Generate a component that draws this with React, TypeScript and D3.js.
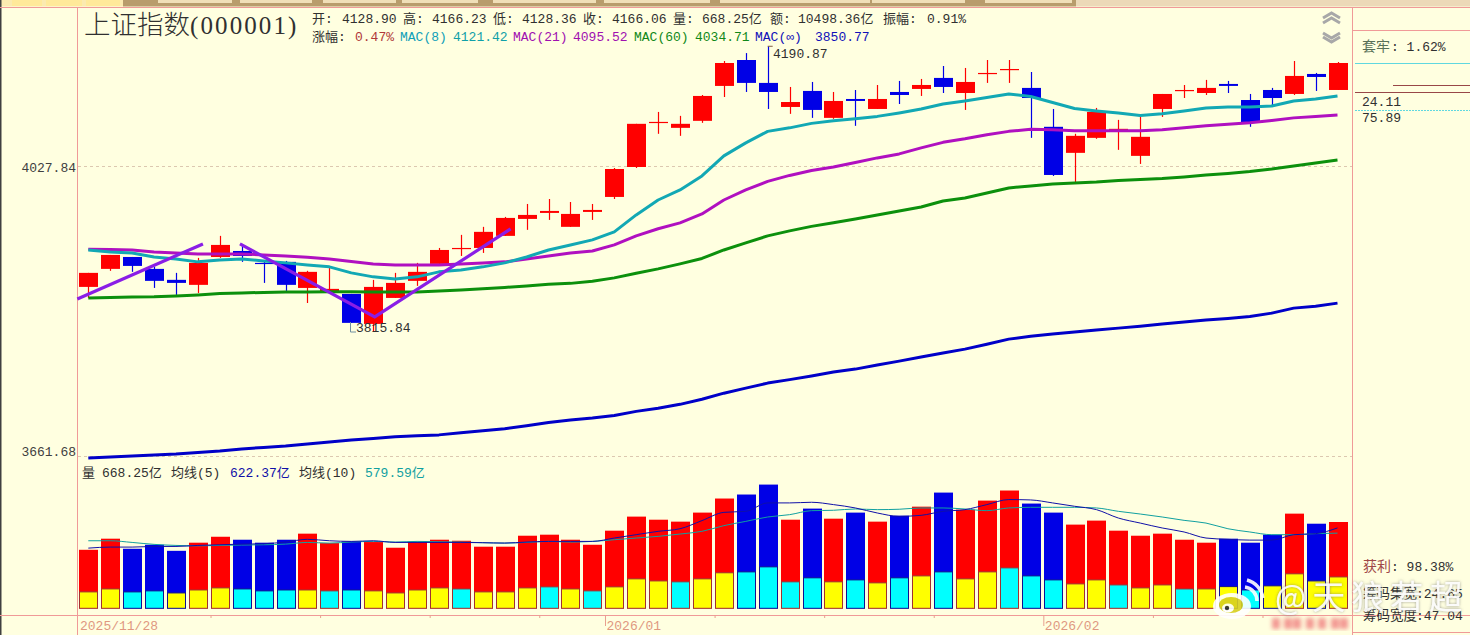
import React from "react";
import * as d3 from "d3";

const opens = [3872.2,3895.2,3910.5,3895.2,3881.2,3874.8,3910.5,3918.2,3902.9,3904.2,3870.9,3865.8,3863.3,3825.4,3858.2,3879.9,3901.6,3920.8,3922.1,3937.7,3959.7,3967.5,3949.4,3968.8,3988.4,4027.84,4086.7,4080,4089.4,4136.6,4172,4140.7,4108.1,4129.8,4093.4,4118.9,4105.4,4128.4,4132.5,4147.5,4127,4152.9,4158.4,4133.9,4081.4,4046.6,4066.6,4077.3,4042.6,4105.4,4129.8,4127,4139.3,4117.5,4131.1,4125.7,4152.9,4131.1];
const closes = [3890.1,3913.1,3899,3879.9,3877.3,3902.9,3926,3911.8,3901.6,3874.8,3891.4,3869.7,3826.7,3872.2,3877.3,3891.4,3919.5,3922.1,3942.9,3961,3964.9,3970.1,3966.2,3971.4,4025.2,4085.4,4088,4085.4,4123,4167.9,4140.7,4128.4,4114.8,4104.1,4116.2,4116.2,4118.9,4124.3,4137.9,4135.2,4142,4154.3,4159.7,4120.2,4017.3,4069.3,4101.4,4078.7,4068,4125.7,4131.1,4133.9,4136.6,4086.7,4120.2,4150.2,4148.8,4167.9];
const highs = [3890.1,3913.1,3910.5,3897.8,3890.1,3909.3,3937.7,3927.3,3904.2,3905.4,3892.7,3897.8,3863.3,3881.1,3890.1,3902.9,3922.1,3939,3949.4,3962.3,3979.2,3985.7,3981.8,3979.2,4026.5,4085.4,4101.4,4096.1,4124.3,4170.6,4181.5,4190.87,4135.2,4142,4128.4,4131.1,4137.9,4143.4,4146.1,4163.8,4161.1,4172,4172,4155.6,4105.4,4072,4106.8,4090.7,4094.7,4125.7,4137.9,4144.8,4143.4,4125.7,4133.9,4170.6,4154.3,4169.3];
const lows = [3858.2,3892.7,3891.4,3870.9,3862,3864.5,3909.3,3904.2,3877.3,3867.1,3851.8,3865.8,3826.7,3815.84,3858.2,3873.5,3901.6,3911.8,3915.7,3937.7,3945.5,3958.4,3949.4,3958.4,3985.7,4026.5,4072,4069.3,4086.7,4121.6,4128.4,4105.4,4098.8,4093.4,4092.1,4082.7,4105.4,4112.1,4123,4127,4104.1,4140.7,4140.7,4066.6,4016,4006.8,4065.3,4050.6,4031.9,4094.7,4120.2,4124.3,4127,4081.4,4108.1,4124.3,4129.8,4131.1];

const mac8 = [3919.5,3917,3915.7,3910.5,3908,3904.2,3906.7,3908,3905.4,3902.9,3900.3,3897.8,3890.1,3885,3882.4,3885,3891.4,3893.9,3897.8,3902.9,3910.5,3919.5,3926,3932.5,3942.9,3964.9,3984.4,3997.6,4016,4042.6,4059.9,4075.3,4080,4086,4089.4,4092.1,4095.4,4100.1,4105.4,4112.1,4116.2,4120.9,4125.7,4122.3,4114.1,4106.1,4102.8,4100.1,4096.5,4098.8,4102.8,4106.8,4108.1,4108.1,4109.5,4116.2,4118.9,4123];
const mac21 = [3920.4,3920.1,3919.5,3917,3915.7,3914.4,3914.4,3914.4,3913.1,3911.8,3910,3908,3904.8,3901.6,3900.3,3900.3,3900.3,3901.6,3902.9,3904.2,3908,3911.8,3915.7,3918.2,3926,3937.7,3946.9,3954.6,3966.2,3984.4,3997.6,4008.8,4016.7,4023.2,4027.84,4033.9,4039.9,4045.2,4053.2,4060.6,4065.3,4070.7,4075.3,4078,4077.3,4076,4076,4076,4076,4077.3,4080,4082.7,4084.7,4086.7,4090,4093.4,4095.4,4097.4];
const mac60 = [3858.2,3858.8,3859.5,3859.7,3860.7,3862,3863.7,3864.5,3865.2,3865.8,3865.8,3866.2,3866.2,3865.8,3865.8,3865.8,3867.1,3868.4,3869.7,3871.6,3873.5,3875.5,3876.7,3879.3,3883.7,3889.5,3895.2,3901.6,3908.6,3919.5,3928.6,3937.7,3944.2,3950,3954.6,3959.7,3964.9,3970.1,3975.3,3983.1,3987.1,3993.6,4000.2,4002.9,4005.5,4006.8,4008.1,4010.1,4011.4,4012.7,4014.7,4017.3,4019.3,4021.9,4025.2,4029.2,4033.2,4037];
const macInf = [3660.5,3661.7,3662.9,3664.1,3665.3,3667.2,3669,3671.4,3673.2,3675,3677.4,3679.8,3682.3,3684.1,3686,3687.2,3688.4,3690.9,3693.4,3695.9,3699.6,3703.3,3706.4,3708.9,3712,3717,3720.7,3725.6,3731.9,3739.3,3745.5,3751.7,3756,3760.4,3765.3,3769,3774,3778.9,3783.9,3788.9,3793.8,3800,3806.3,3810,3812.6,3815.1,3817.6,3820.1,3822.6,3825.2,3827.7,3830.2,3832.1,3834.6,3839,3845.3,3847.8,3851.6];

const volTotal = [453,539,461,492,445,508,554,531,508,531,578,505,518,513,469,515,531,523,477,477,562,570,531,492,601,710,686,671,741,850,881,958,686,772,694,741,671,717,787,896,764,834,912,811,741,648,679,601,562,578,531,508,539,508,570,733,655,668.25];
const volChip = [127,150,127,135,119,142,158,150,135,142,142,135,142,135,119,142,158,150,127,127,158,166,150,135,166,228,212,205,228,275,282,321,205,236,205,220,197,236,251,282,228,282,313,251,220,189,220,181,158,181,150,150,168,142,174,267,212,243];
const chipKinds = ["y","y","c","c","y","y","y","c","c","c","y","c","c","y","y","y","y","c","y","y","y","c","y","c","y","y","y","c","y","y","c","c","c","c","y","c","y","c","y","c","y","y","c","c","c","y","y","c","y","y","c","y","y","c","y","y","y","y"];
const vol5 = [466,474,474,479,479,487,492,497,500,513,534,523,518,523,510,510,510,510,508,505,513,518,518,518,544,570,596,616,679,743,751,816,816,821,803,777,738,712,720,751,764,803,842,839,816,790,764,699,660,622,591,544,534,528,528,570,578,622.37];
const vol10 = [523,523,510,495,487,484,487,490,492,497,510,505,513,518,513,518,515,513,508,505,510,518,513,518,531,544,557,575,596,640,673,707,725,756,759,769,764,767,777,777,769,756,777,782,782,782,777,751,730,707,681,660,616,591,570,570,578,582];

const priceTicks = [4027.84, 3661.68];
const minorDateTicks = [6, 11, 16, 21, 29, 34, 39, 49, 54];
const monthTicks = [
  { i: 24, label: "2026/01" },
  { i: 44, label: "2026/02" },
];
const trendA = [[-0.5, 3856.9], [5.23, 3927.3]];
const trendB = [[6.92, 3927.3], [13.07, 3834.2], [19.27, 3946.8]];

const header1 = [
  ["开:", 312, "#303030"], ["4128.90", 342, "#303030"],
  ["高:", 403, "#303030"], ["4166.23", 432, "#303030"],
  ["低:", 493, "#303030"], ["4128.36", 522, "#303030"],
  ["收:", 583, "#303030"], ["4166.06", 612, "#303030"],
  ["量:", 673, "#303030"], ["668.25亿", 702, "#303030"],
  ["额:", 770, "#303030"], ["10498.36亿", 798, "#303030"],
  ["振幅:", 883, "#303030"], ["0.91%", 927, "#303030"],
];
const header2 = [
  ["涨幅:", 312, "#303030"], ["0.47%", 355, "#b03838"],
  ["MAC(8)", 400, "#10a0b8"], ["4121.42", 453, "#10a0a8"],
  ["MAC(21)", 513, "#a010b0"], ["4095.52", 573, "#a010b0"],
  ["MAC(60)", 634, "#108818"], ["4034.71", 695, "#108818"],
  ["MAC(∞)", 755, "#1010b8"], ["3850.77", 815, "#1010b8"],
];
const volHeader = [
  ["量", 82, "#303030"], ["668.25亿", 102, "#303030"],
  ["均线(5)", 171, "#303030"], ["622.37亿", 230, "#1010a8"],
  ["均线(10)", 299, "#303030"], ["579.59亿", 365, "#10a0a0"],
];
const topTabs = [[12, 42], [46, 82], [86, 120], [158, 232], [240, 312], [323, 396], [402, 478], [493, 596], [604, 710], [720, 870], [872, 965], [985, 1072]];
const smearXs = [1272, 1284, 1293, 1306, 1318, 1331, 1340];

const RED = "#ff0000";
const BLUE = "#0000e6";
const FONT = "'Liberation Mono','Noto Sans CJK SC',monospace";
const CJK = "'Noto Sans CJK SC','Liberation Mono',sans-serif";

const x = d3.scaleLinear().domain([0, 57]).range([88.3, 1337.5]);
const y = d3.scaleLog().domain([3661.68, 4027.84]).range([457, 167]);
const yVol = d3.scaleLinear().domain([0, 668.25]).range([608.3, 522]);

const linePrice = d3.line<number>().x((_, i) => x(i)).y((d) => y(d));
const lineVol = d3.line<number>().x((_, i) => x(i)).y((d) => yVol(d)).curve(d3.curveMonotoneX);
const lineTrend = d3.line<number[]>().x((d) => x(d[0])).y((d) => y(d[1]));

function Segs({ items, base, size = 13 }: { items: any[]; base: number; size?: number }) {
  return (
    <g fontFamily={FONT} fontSize={size}>
      {items.map((s, i) => (
        <text key={i} x={s[1]} y={base} fill={s[2]}>{s[0]}</text>
      ))}
    </g>
  );
}

export default function App() {
  const idx = d3.range(opens.length);
  return (
    <svg width={1470} height={635} viewBox="0 0 1470 635" style={{ position: "absolute", left: 0, top: 0, display: "block" }}>
      <defs>
        <filter id="blur1"><feGaussianBlur stdDeviation="2" /></filter>
        <filter id="wm" x="-10%" y="-30%" width="120%" height="160%">
          <feDropShadow dx={0} dy={0} stdDeviation={1.4} floodColor="#707070" floodOpacity={0.75} />
        </filter>
      </defs>
      <rect width={1470} height={635} fill="#ffffe0" />

      {/* top strip */}
      <rect x={0} y={0} width={123} height={6.5} fill="#fbeab0" />
      <rect x={123} y={0} width={953} height={6.5} fill="#b89c6c" />
      <rect x={1076} y={0} width={394} height={6.5} fill="#ecd9b8" />
      {topTabs.map((t, i) => (
        <rect key={i} x={t[0]} y={0} width={t[1] - t[0]} height={i < 3 ? 6 : 3} fill={i < 3 ? "#ffe99a" : "#f0dfb8"} />
      ))}
      <rect x={0} y={0} width={1.5} height={635} fill="#404040" />

      {/* frame */}
      <g stroke="#f09a98" strokeWidth={1} fill="none">
        <line x1={0} x2={1470} y1={7.5} y2={7.5} />
        <line x1={77.5} x2={77.5} y1={7} y2={635} />
        <line x1={1352.5} x2={1352.5} y1={7} y2={635} />
        <line x1={0} x2={1470} y1={615.5} y2={615.5} />
        <line x1={1353} x2={1470} y1={30.5} y2={30.5} />
        <line x1={1353} x2={1470} y1={632.5} y2={632.5} />
      </g>

      {/* price grid */}
      {priceTicks.map((t) => (
        <line key={t} x1={78} x2={1352} y1={y(t) - 0.5} y2={y(t) - 0.5} stroke="#dcc8b0" strokeWidth={1} strokeDasharray="3 3" />
      ))}
      <text x={76} y={172} textAnchor="end" fontFamily={FONT} fontSize={13} fill="#404040">{priceTicks[0]}</text>
      <text x={76} y={456} textAnchor="end" fontFamily={FONT} fontSize={13} fill="#404040">{priceTicks[1]}</text>

      {/* candles */}
      {idx.map((i) => {
        const up = closes[i] >= opens[i];
        const c = up ? RED : BLUE;
        const top = y(Math.max(opens[i], closes[i]));
        const bot = y(Math.min(opens[i], closes[i]));
        const cx = Math.round(x(i)) + 0.5;
        return (
          <g key={i}>
            <line x1={cx} x2={cx} y1={y(highs[i])} y2={y(lows[i])} stroke={c} strokeWidth={1.2} />
            <rect x={cx - 9.5} y={top} width={19} height={Math.max(1.2, bot - top)} fill={c} />
          </g>
        );
      })}

      {/* moving averages */}
      <path d={linePrice(macInf) ?? ""} fill="none" stroke="#0000c8" strokeWidth={3} strokeLinejoin="round" />
      <path d={linePrice(mac60) ?? ""} fill="none" stroke="#0c900c" strokeWidth={3} strokeLinejoin="round" />
      <path d={linePrice(mac21) ?? ""} fill="none" stroke="#b010c0" strokeWidth={3} strokeLinejoin="round" />
      <path d={linePrice(mac8) ?? ""} fill="none" stroke="#12a8b4" strokeWidth={3} strokeLinejoin="round" />

      {/* hand-drawn trend lines */}
      <path d={lineTrend(trendA) ?? ""} fill="none" stroke="#8a1ee6" strokeWidth={3.2} />
      <path d={lineTrend(trendB) ?? ""} fill="none" stroke="#8a1ee6" strokeWidth={3.2} />

      {/* high/low labels */}
      <path d={`M${x(31) + 5},${y(4190.87)}H${x(31)}`} stroke="#806040" fill="none" />
      <text x={773} y={58} fontFamily={FONT} fontSize={13} fill="#303030">4190.87</text>
      <path d="M350.5,322V332H356" stroke="#7090a0" fill="none" />
      <text x={356} y={332} fontFamily={FONT} fontSize={13} fill="#303030">3815.84</text>

      {/* title and headers */}
      <text x={84} y={34} fontFamily={CJK} fontSize={26.5} fontWeight={300} fill="#303030">上证指数</text>
      <text x={190} y={34} fontFamily="'Liberation Serif',serif" fontSize={25} letterSpacing={2.1} fill="#303030">(000001)</text>
      <Segs items={header1} base={23} />
      <Segs items={header2} base={41} />
      <Segs items={volHeader} base={477} />

      {/* chevrons */}
      <g fill="none" stroke="#a8a8a8" strokeWidth={3}>
        <path d="M1323,18L1331.5,13L1340,18" />
        <path d="M1323,23L1331.5,18L1340,23" />
        <path d="M1323,33L1331.5,38L1340,33" />
        <path d="M1323,37L1331.5,42L1340,37" />
      </g>

      {/* right panel */}
      <text x={1362} y={51} fontFamily={CJK} fontSize={14} fill="#587058">套牢</text>
      <text x={1391} y={51} fontFamily={FONT} fontSize={13} fill="#303030">: 1.62%</text>
      <line x1={1355} x2={1470} y1={63.5} y2={63.5} stroke="#60d8e0" />
      <line x1={1393} x2={1470} y1={85.5} y2={85.5} stroke="#984848" />
      <line x1={1355} x2={1470} y1={92.5} y2={92.5} stroke="#984848" />
      <text x={1362} y={106} fontFamily={FONT} fontSize={13} fill="#303030">24.11</text>
      <line x1={1355} x2={1470} y1={110.5} y2={110.5} stroke="#60d8e0" strokeDasharray="2 1" />
      <text x={1362} y={122} fontFamily={FONT} fontSize={13} fill="#303030">75.89</text>
      <text x={1363} y={571} fontFamily={CJK} fontSize={14} fill="#a04848">获利</text>
      <text x={1391} y={571} fontFamily={FONT} fontSize={13} fill="#303030">: 98.38%</text>

      {/* volume */}
      {idx.map((i) => {
        const up = closes[i] >= opens[i];
        const c = up ? RED : BLUE;
        const cx = Math.round(x(i)) + 0.5;
        return (
          <g key={i}>
            <rect x={cx - 9.5} y={yVol(volTotal[i])} width={19} height={yVol(0) - yVol(volTotal[i])} fill={c} />
            <rect x={cx - 9} y={yVol(volChip[i])} width={18} height={yVol(0) - yVol(volChip[i])}
              fill={chipKinds[i] === "y" ? "#ffff00" : "#00ffff"} stroke={up ? "#a03030" : "#101090"} strokeWidth={1} />
          </g>
        );
      })}
      <path d={lineVol(vol10) ?? ""} fill="none" stroke="#10a0a0" strokeWidth={1} />
      <path d={lineVol(vol5) ?? ""} fill="none" stroke="#1010a8" strokeWidth={1} />

      {/* date axis */}
      {minorDateTicks.map((t) => (
        <line key={t} x1={x(t - 0.4)} x2={x(t - 0.4)} y1={615} y2={618} stroke="#e8a090" />
      ))}
      {monthTicks.map((t) => (
        <line key={t.i} x1={x(t.i - 0.4)} x2={x(t.i - 0.4)} y1={615} y2={626} stroke="#e8a090" />
      ))}
      <text x={80} y={630} fontFamily={FONT} fontSize={13} fill="#e09880">2025/11/28</text>
      {monthTicks.map((t) => (
        <text key={t.i} x={x(t.i - 0.4) + 1} y={630} fontFamily={FONT} fontSize={13} fill="#e09880">{t.label}</text>
      ))}

      {/* blurred smear */}
      <g filter="url(#blur1)" fill="#f08080" opacity={0.8}>
        {smearXs.map((v) => (
          <rect key={v} x={v} y={618} width={8} height={11} />
        ))}
      </g>

      {/* bottom-right text */}
      <text x={1363} y={598} fontFamily={CJK} fontSize={13.5} fill="#303030">筹码集宽</text>
      <text x={1416} y={598} fontFamily={FONT} fontSize={13} fill="#303030">:24.65</text>
      <text x={1363} y={620} fontFamily={CJK} fontSize={13.5} fill="#303030">筹码宽度</text>
      <text x={1416} y={620} fontFamily={FONT} fontSize={13} fill="#303030">:47.04</text>

      {/* watermark */}
      <g opacity={0.9}>
        <ellipse cx={1232} cy={606} rx={19} ry={13} fill="#ffffff" />
        <ellipse cx={1231} cy={605} rx={12} ry={8} fill="#d8d020" />
        <ellipse cx={1228} cy={608} rx={6} ry={4.5} fill="#ffffff" />
        <circle cx={1227} cy={608} r={2.2} fill="#303030" />
        <path d="M1245,587A14,14 0 0 1 1257,601" fill="none" stroke="#ffffff" strokeWidth={3.5} />
        <path d="M1247,580A22,22 0 0 1 1263,598" fill="none" stroke="#ffffff" strokeWidth={3.5} />
      </g>
      <text x={1275} y={609} fontFamily={CJK} fontSize={33} letterSpacing={6} fill="#ffffff" fillOpacity={0.9} filter="url(#wm)">
        @天狼若超
      </text>
    </svg>
  );
}
